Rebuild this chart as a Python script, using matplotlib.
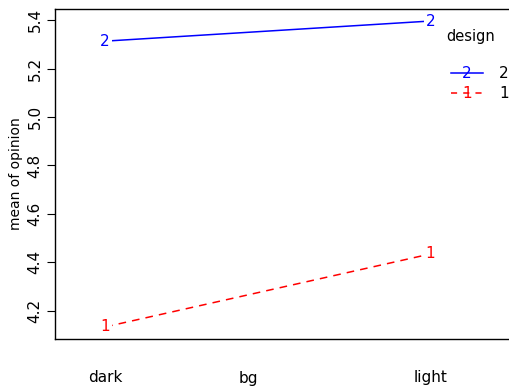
import matplotlib
matplotlib.use("Agg")
import matplotlib.pyplot as plt

# données
bg_levels = ["dark", "light"]
design_2 = [5.313, 5.396]
design_1 = [4.134, 4.435]

plt.rcParams['font.family'] = ['DejaVu Sans']

fig = plt.figure(figsize=(5.10, 3.87), dpi=100)
ax = fig.add_axes([0.108, 0.124, 0.902, 0.853])

x = [1, 2]
ax.plot(x, design_2, color='blue', lw=1.1, zorder=1)
ax.plot(x, design_1, color='red', lw=1.1, ls=(0, (5, 4)), zorder=1)
for xi, yi in zip(x, design_2):
    ax.text(xi, yi, "2", color='blue', fontsize=11, ha='center', va='center',
            bbox=dict(facecolor='white', edgecolor='none', pad=1.5), zorder=2)
for xi, yi in zip(x, design_1):
    ax.text(xi, yi, "1", color='red', fontsize=11, ha='center', va='center',
            bbox=dict(facecolor='white', edgecolor='none', pad=1.5), zorder=2)

ax.set_xlim(0.846, 2.26)
ax.set_ylim(4.084, 5.446)
ax.set_yticks([4.2, 4.4, 4.6, 4.8, 5.0, 5.2, 5.4])
ax.set_yticklabels(["4.2", "4.4", "4.6", "4.8", "5.0", "5.2", "5.4"],
                   rotation=90, va='center', fontsize=11)
ax.tick_params(axis='y', length=6, pad=3)
ax.set_xticks(x)
ax.set_xticklabels(bg_levels, fontsize=11)
ax.tick_params(axis='x', length=0, pad=22)
ax.set_ylabel("mean of opinion", fontsize=10, labelpad=3)
fig.text(248 / 510, 1 - 378 / 387, "bg", fontsize=11, ha='center', va='center')

for s in ax.spines.values():
    s.set_linewidth(1.0)

# légende
ax.text(446 / 510, 1 - 37 / 387, "design", transform=fig.transFigure,
        fontsize=10.5, va='center')
for ly, vals, col, ls, lab in [(73, "2", 'blue', '-', "2"), (93, "1", 'red', (0, (4, 4)), "1")]:
    yf = 1 - ly / 387
    fig.add_artist(plt.Line2D([451 / 510, 483 / 510], [yf, yf], color=col, lw=1.1, ls=ls))
    fig.text(467 / 510, yf, vals, color=col, fontsize=11, ha='center', va='center')
    fig.text(499 / 510, yf, lab, fontsize=11, ha='left', va='center')

fig.savefig("out.png", dpi=100)
